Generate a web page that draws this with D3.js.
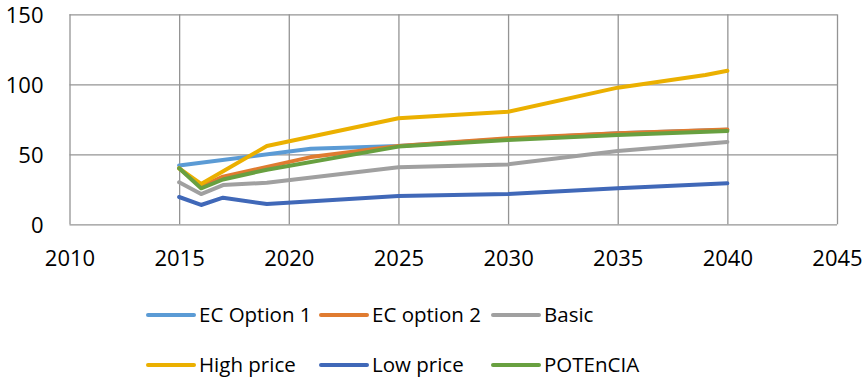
<!DOCTYPE html>
<html>
<head>
<meta charset="utf-8">
<script src="https://cdn.jsdelivr.net/npm/d3@7/dist/d3.min.js"></script>
<style>
  html, body { margin: 0; padding: 0; background: #fff; }
  svg { display: block; }
  text { font-family: "Open Sans", "Noto Sans", sans-serif; fill: #000; }
</style>
</head>
<body>
<svg id="chart" width="866" height="382"></svg>
<script>
// Price scenarios, by year
const seriesNames = ["EC Option 1", "EC option 2", "Basic", "High price", "Low price", "POTEnCIA"];
const seriesColors = ["#5b9bd5", "#e07b30", "#a0a0a0", "#ebb000", "#4068b8", "#68a040"];

const ecOption1 = [[2015, 42], [2021, 54], [2025, 56], [2030, 61], [2035, 65], [2040, 67.5]];
const ecOption2 = [[2015, 40], [2016, 27], [2017, 34], [2019, 41], [2021, 48], [2025, 56], [2030, 61.4], [2035, 65], [2040, 67.8]];
const basic = [[2015, 30], [2016, 21.6], [2017, 28], [2019, 29.7], [2025, 40.7], [2030, 42.8], [2035, 52.4], [2040, 58.8]];
const highPrice = [[2015, 40], [2016, 28.8], [2019, 55.9], [2025, 75.7], [2030, 80.4], [2035, 97.6], [2039, 106.6], [2040, 109.7]];
const lowPrice = [[2015, 19.5], [2016, 13.8], [2017, 19], [2019, 14.5], [2025, 20.2], [2030, 21.6], [2035, 25.7], [2040, 29.3]];
const potencia = [[2015, 40], [2016, 25.7], [2017, 32], [2019, 39], [2025, 55.5], [2030, 60.2], [2035, 63.8], [2040, 66.6]];

const xTicks = [2010, 2015, 2020, 2025, 2030, 2035, 2040, 2045];
const yTicks = [0, 50, 100, 150];

const seriesData = [ecOption1, ecOption2, basic, highPrice, lowPrice, potencia];

const svg = d3.select("#chart");
const plot = { left: 69.5, right: 837, top: 14.3, bottom: 224.3 };

const x = d3.scaleLinear().domain([2010, 2045]).range([plot.left, plot.right]);
const y = d3.scaleLinear().domain([0, 150]).range([plot.bottom, plot.top]);

const gridColor = "#949494";

// Horizontal gridlines + y labels
const yAxis = d3.axisLeft(y).tickValues(yTicks).tickSize(-(plot.right - plot.left)).tickPadding(26).tickFormat(d3.format("d"));
const gy = svg.append("g").attr("transform", `translate(${plot.left},0)`).call(yAxis);
gy.select(".domain").remove();
gy.selectAll(".tick line").attr("stroke", gridColor).attr("stroke-width", 1.3);
gy.selectAll(".tick text").attr("font-size", 22).attr("fill", "#000")
  .style("font-family", "'Open Sans', sans-serif").attr("dx", 0).attr("dy", "0.36em");

// Vertical gridlines + x labels
const xAxis = d3.axisBottom(x).tickValues(xTicks).tickSize(-(plot.bottom - plot.top)).tickPadding(26).tickFormat(d3.format("d"));
const gx = svg.append("g").attr("transform", `translate(0,${plot.bottom})`).call(xAxis);
gx.select(".domain").remove();
gx.selectAll(".tick line").attr("stroke", gridColor).attr("stroke-width", 1.3);
gx.selectAll(".tick text").attr("font-size", 22).attr("fill", "#000")
  .style("font-family", "'Open Sans', sans-serif").attr("dy", "0.71em");

// Series lines
const line = d3.line().x(d => x(d[0])).y(d => y(d[1]));
svg.append("g").selectAll("path")
  .data(seriesData)
  .join("path")
  .attr("d", line)
  .attr("fill", "none")
  .attr("stroke", (d, i) => seriesColors[i])
  .attr("stroke-width", 4)
  .attr("stroke-linejoin", "round")
  .attr("stroke-linecap", "round");

// Legend: two rows of three
const legendCols = [148, 321, 493];
const legendRows = [315, 365];
const legend = svg.append("g").selectAll("g")
  .data(seriesNames)
  .join("g")
  .attr("transform", (d, i) => `translate(${legendCols[i % 3]},${legendRows[Math.floor(i / 3)]})`);
legend.append("line")
  .attr("x1", 0).attr("x2", 46).attr("y1", 0).attr("y2", 0)
  .attr("stroke", (d, i) => seriesColors[i])
  .attr("stroke-width", 4)
  .attr("stroke-linecap", "round");
legend.append("text")
  .attr("x", 51).attr("y", 0).attr("dy", "0.36em")
  .attr("font-size", 20.5)
  .text(d => d);
</script>
</body>
</html>
